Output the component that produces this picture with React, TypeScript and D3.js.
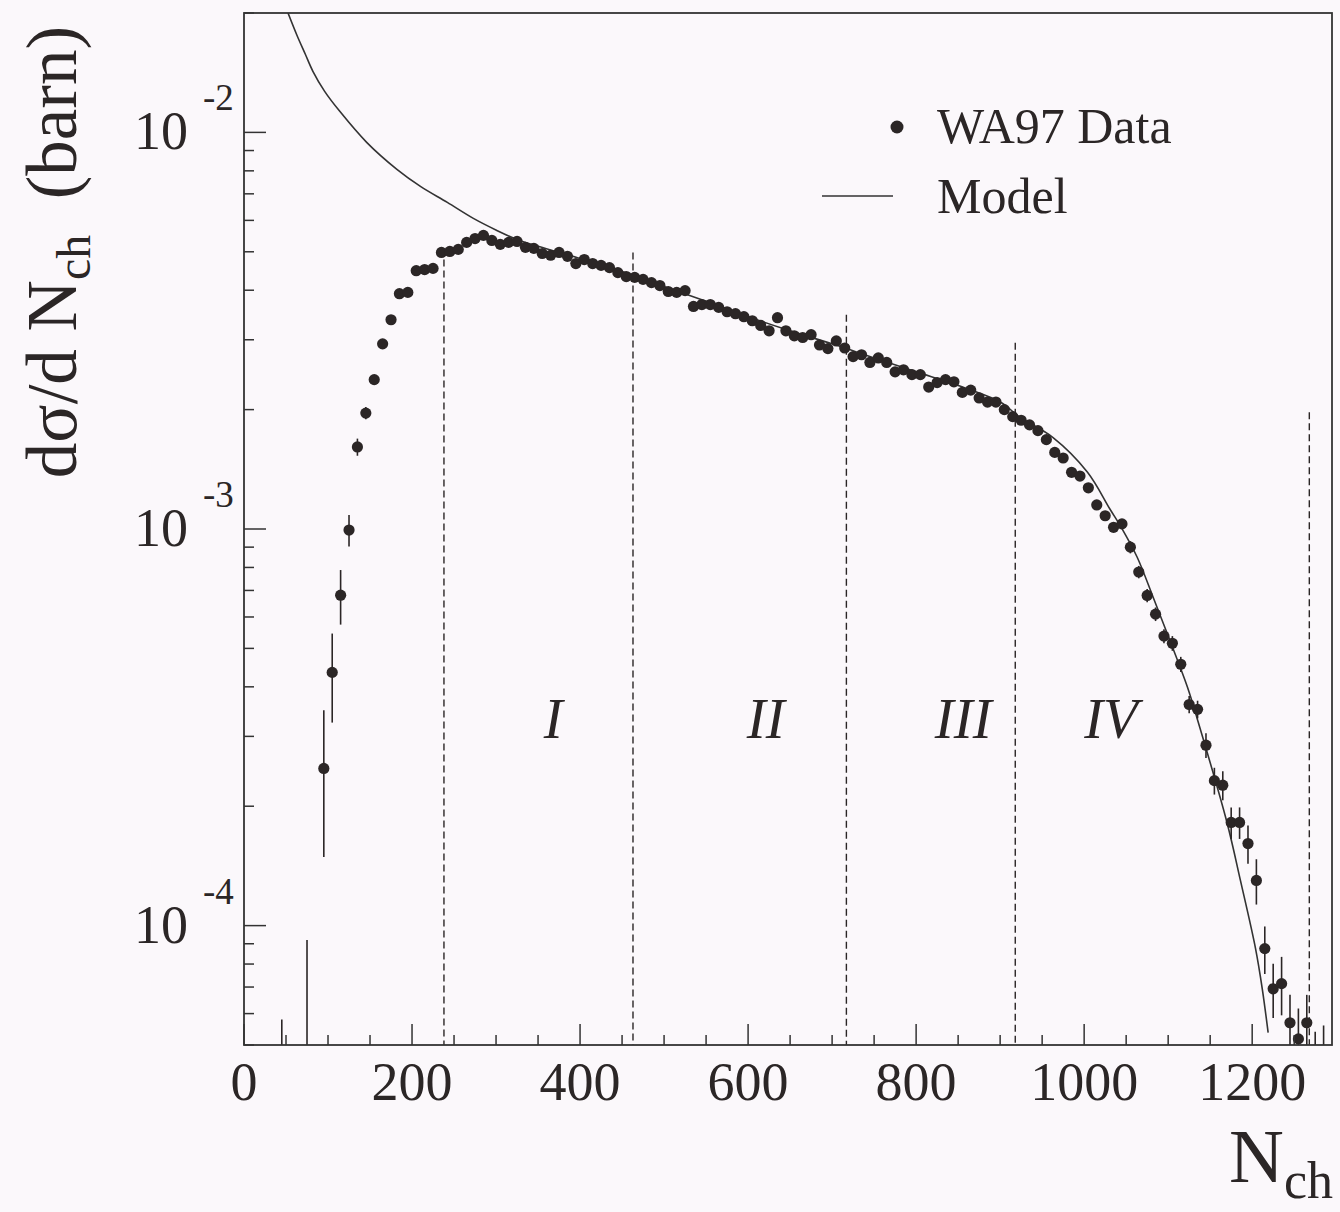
import React from "react";
import * as d3 from "d3";

// ---- data ----
const nch = [
  45, 75, 95, 105, 115, 125, 135, 145, 155, 165, 175, 185, 195, 205, 215, 225, 235, 245, 255, 265,
  275, 285, 295, 305, 315, 325, 335, 345, 355, 365, 375, 385, 395, 405, 415, 425, 435, 445, 455, 465,
  475, 485, 495, 505, 515, 525, 535, 545, 555, 565, 575, 585, 595, 605, 615, 625, 635, 645, 655, 665,
  675, 685, 695, 705, 715, 725, 735, 745, 755, 765, 775, 785, 795, 805, 815, 825, 835, 845, 855, 865,
  875, 885, 895, 905, 915, 925, 935, 945, 955, 965, 975, 985, 995, 1005, 1015, 1025, 1035, 1045, 1055, 1065,
  1075, 1085, 1095, 1105, 1115, 1125, 1135, 1145, 1155, 1165, 1175, 1185, 1195, 1205, 1215, 1225, 1235, 1245, 1255, 1265,
  1275, 1285,
];

const dsigma = [
  2.0e-5, 3.0e-5, 2.49e-4, 4.35e-4, 6.81e-4, 9.94e-4, 1.61e-3, 1.96e-3, 2.38e-3, 2.93e-3,
  3.37e-3, 3.92e-3, 3.95e-3, 4.48e-3, 4.51e-3, 4.54e-3, 4.98e-3, 5.01e-3, 5.07e-3, 5.28e-3,
  5.40e-3, 5.50e-3, 5.34e-3, 5.22e-3, 5.28e-3, 5.31e-3, 5.13e-3, 5.10e-3, 4.95e-3, 4.90e-3,
  4.98e-3, 4.87e-3, 4.67e-3, 4.78e-3, 4.67e-3, 4.62e-3, 4.56e-3, 4.43e-3, 4.33e-3, 4.31e-3,
  4.26e-3, 4.18e-3, 4.11e-3, 3.97e-3, 3.95e-3, 3.99e-3, 3.64e-3, 3.68e-3, 3.68e-3, 3.62e-3,
  3.53e-3, 3.49e-3, 3.43e-3, 3.35e-3, 3.26e-3, 3.16e-3, 3.41e-3, 3.16e-3, 3.07e-3, 3.04e-3,
  3.09e-3, 2.91e-3, 2.85e-3, 2.98e-3, 2.86e-3, 2.72e-3, 2.75e-3, 2.63e-3, 2.70e-3, 2.63e-3,
  2.49e-3, 2.52e-3, 2.45e-3, 2.45e-3, 2.28e-3, 2.34e-3, 2.38e-3, 2.35e-3, 2.21e-3, 2.24e-3,
  2.14e-3, 2.09e-3, 2.09e-3, 2.00e-3, 1.92e-3, 1.88e-3, 1.83e-3, 1.77e-3, 1.68e-3, 1.56e-3,
  1.51e-3, 1.39e-3, 1.36e-3, 1.27e-3, 1.15e-3, 1.08e-3, 1.01e-3, 1.03e-3, 9.00e-4, 7.79e-4,
  6.80e-4, 6.10e-4, 5.37e-4, 5.15e-4, 4.56e-4, 3.61e-4, 3.51e-4, 2.85e-4, 2.32e-4, 2.26e-4,
  1.82e-4, 1.82e-4, 1.61e-4, 1.30e-4, 8.75e-5, 6.93e-5, 7.14e-5, 5.69e-5, 5.18e-5, 5.69e-5,
  2.5e-5, 2.5e-5,
];

// visible statistical errors (absolute, barn)
const errN = [
  45, 75, 95, 105, 115, 125, 135, 145, 155, 165,
  1055, 1065, 1075, 1085, 1095, 1105, 1115, 1125, 1135,
  1145, 1155, 1165, 1175, 1185, 1195, 1205, 1215, 1225, 1235, 1245, 1255, 1265, 1275, 1285,
];
const errSigma = [
  3.8e-5, 6.2e-5, 1.0e-4, 1.1e-4, 1.07e-4, 0.9e-4, 0.8e-4, 0.7e-4, 0.6e-4, 0.5e-4,
  3.2e-5, 2.8e-5, 2.6e-5, 2.4e-5, 2.2e-5, 2.2e-5, 2.0e-5, 1.8e-5, 1.8e-5,
  2.05e-5, 1.8e-5, 1.9e-5, 1.66e-5, 1.66e-5, 1.77e-5, 1.7e-5, 1.2e-5, 1.08e-5, 1.2e-5, 1.0e-5, 1.0e-5, 1.0e-5, 2.9e-5, 3.1e-5,
];

const modelN = [
  52, 63, 73, 82, 96, 114, 146, 182, 210, 242, 273, 301, 325, 350, 400, 450, 500, 550, 600, 650,
  700, 750, 800, 850, 900, 924, 963, 1004, 1031, 1046, 1063, 1082, 1102, 1123, 1135, 1170, 1186, 1204,
  1212, 1219,
];
const modelVal = [
  2.01e-2, 1.758e-2, 1.574e-2, 1.426e-2, 1.269e-2, 1.13e-2, 9.44e-3, 8.07e-3, 7.31e-3, 6.66e-3,
  6.07e-3, 5.66e-3, 5.37e-3, 5.16e-3, 4.81e-3, 4.46e-3, 4.09e-3, 3.75e-3, 3.43e-3, 3.16e-3,
  2.93e-3, 2.70e-3, 2.49e-3, 2.30e-3, 2.09e-3, 1.91e-3, 1.70e-3, 1.39e-3, 1.12e-3, 9.94e-4,
  8.50e-4, 6.74e-4, 5.24e-4, 3.99e-4, 3.30e-4, 1.82e-4, 1.30e-4, 8.75e-5, 6.93e-5, 5.37e-5,
];

const boundaryN = [238, 463, 717, 918, 1268];
const boundaryTop = [4.78e-3, 4.98e-3, 3.47e-3, 2.95e-3, 1.97e-3];

const regionLabels = ["I", "II", "III", "IV"];
const regionLabelN = [368, 621, 856, 1032];

const xTickValues = [0, 200, 400, 600, 800, 1000, 1200];
const yMajorExponents = [-2, -3, -4];
const legendLabels = ["WA97 Data", "Model"];

const FONT = "'Liberation Serif', 'Times New Roman', serif";
const INK = "#2b2626";
const BG = "#fbf8fb";

export default function App() {
  const W = 1340;
  const H = 1212;
  const L = 244, R = 1332, T = 13, B = 1045;

  const x = d3.scaleLinear().domain([0, 1295]).range([L, R]);
  const y = d3.scaleLog().domain([5e-5, 2e-2]).range([B, T]);
  const yMin = 5e-5;

  const minorX = d3.range(0, 1295, 50).filter((v) => v % 200 !== 0);
  const yTicks: { v: number; major: boolean }[] = [];
  for (let e = -5; e <= -2; e++) {
    for (let k = 1; k <= 9; k++) {
      const v = k * Math.pow(10, e);
      if (v >= 5e-5 * 0.999 && v <= 2e-2 * 1.001) yTicks.push({ v, major: k === 1 });
    }
  }

  const modelLine = d3
    .line<number>()
    .x((_, i) => x(modelN[i]))
    .y((_, i) => y(modelVal[i]))
    .curve(d3.curveCatmullRom.alpha(0.5));

  const errMap = new Map<number, number>();
  errN.forEach((n, i) => errMap.set(n, errSigma[i]));

  return (
    <svg
      width={W}
      height={H}
      viewBox={`0 0 ${W} ${H}`}
      style={{ position: "absolute", left: 0, top: 0, display: "block" }}
      fontFamily={FONT}
    >
      <defs>
        <clipPath id="plotclip">
          <rect x={L} y={T} width={R - L} height={B - T} />
        </clipPath>
      </defs>
      <rect x={0} y={0} width={W} height={H} fill={BG} />

      {/* dashed region boundaries */}
      <g stroke={INK} strokeWidth={1.4} strokeDasharray="7,4">
        {boundaryN.map((n, i) => (
          <line key={i} x1={x(n)} x2={x(n)} y1={y(boundaryTop[i])} y2={B} />
        ))}
      </g>

      {/* model */}
      <path
        d={modelLine(modelVal) || ""}
        fill="none"
        stroke="#333"
        strokeWidth={1.6}
        clipPath="url(#plotclip)"
      />

      {/* data error bars */}
      <g clipPath="url(#plotclip)" stroke={INK} strokeWidth={1.6}>
        {nch.map((n, i) => {
          const s = errMap.get(n);
          if (s === undefined) return null;
          const v = dsigma[i];
          const lo = Math.max(v - s, yMin * 0.5);
          const hi = v + s;
          return <line key={i} x1={x(n)} x2={x(n)} y1={y(hi)} y2={y(lo)} />;
        })}
      </g>

      {/* data points */}
      <g clipPath="url(#plotclip)" fill={INK}>
        {nch.map((n, i) =>
          dsigma[i] >= yMin ? <circle key={i} cx={x(n)} cy={y(dsigma[i])} r={5.6} /> : null
        )}
      </g>

      {/* frame */}
      <rect x={L} y={T} width={R - L} height={B - T} fill="none" stroke="#333" strokeWidth={1.8} />

      {/* x ticks */}
      <g stroke="#333" strokeWidth={1.5}>
        {xTickValues.map((v) => (
          <line key={"M" + v} x1={x(v)} x2={x(v)} y1={B} y2={B - 21} />
        ))}
        {minorX.map((v) => (
          <line key={"m" + v} x1={x(v)} x2={x(v)} y1={B} y2={B - 10} />
        ))}
      </g>
      <g fill={INK} fontSize={54} textAnchor="middle">
        {xTickValues.map((v) => (
          <text key={v} x={x(v)} y={1100}>
            {v}
          </text>
        ))}
      </g>

      {/* y ticks */}
      <g stroke="#333" strokeWidth={1.5}>
        {yTicks.map((t, i) => (
          <line key={i} x1={L} x2={L + (t.major ? 22 : 10)} y1={y(t.v)} y2={y(t.v)} />
        ))}
      </g>
      <g fill={INK}>
        {yMajorExponents.map((e) => {
          const yy = y(Math.pow(10, e));
          return (
            <g key={e}>
              <text x={188} y={yy + 17} fontSize={54} textAnchor="end">
                10
              </text>
              <text x={203} y={yy - 22} fontSize={37}>
                {e}
              </text>
            </g>
          );
        })}
      </g>

      {/* axis titles */}
      <text transform="translate(76,252) rotate(-90)" fill={INK} fontSize={71} textAnchor="middle">
        <tspan>dσ/d N</tspan>
        <tspan dy={14} fontSize={48}>ch</tspan>
        <tspan dy={-14}>{"\u00a0\u00a0(barn)"}</tspan>
      </text>
      <text x={1333} y={1182} fill={INK} fontSize={76} textAnchor="end">
        <tspan>N</tspan>
        <tspan dy={16} fontSize={52}>ch</tspan>
      </text>

      {/* region labels */}
      <g fill={INK} fontSize={57} fontStyle="italic" textAnchor="middle">
        {regionLabels.map((lab, i) => (
          <text key={lab} x={x(regionLabelN[i])} y={738}>
            {lab}
          </text>
        ))}
      </g>

      {/* legend */}
      <circle cx={897} cy={127} r={6.5} fill={INK} />
      <text x={937} y={143} fill={INK} fontSize={50}>
        {legendLabels[0]}
      </text>
      <line x1={822} x2={893} y1={196} y2={196} stroke="#333" strokeWidth={1.6} />
      <text x={937} y={213} fill={INK} fontSize={50}>
        {legendLabels[1]}
      </text>
    </svg>
  );
}
